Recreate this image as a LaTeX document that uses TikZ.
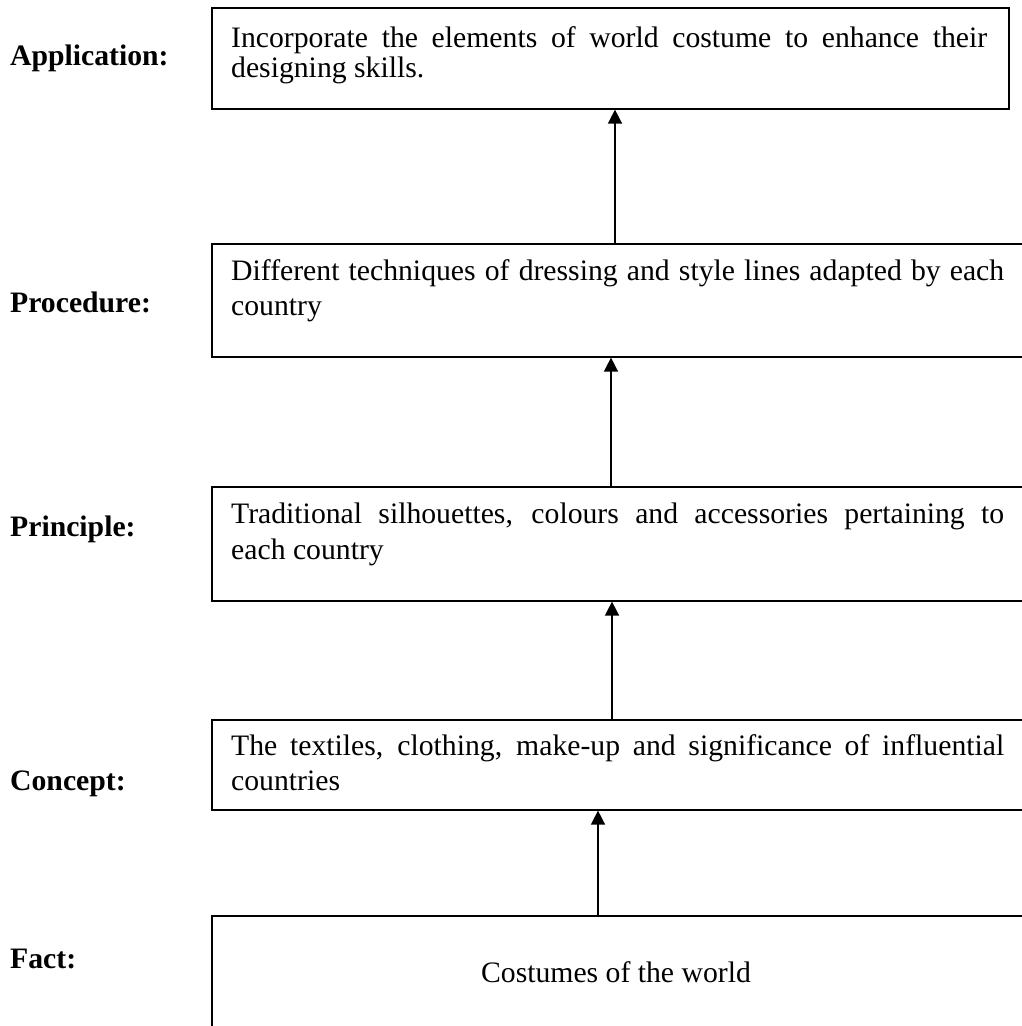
\documentclass[tikz,border=0pt]{standalone}
\usepackage{fontspec}
\setmainfont{Liberation Serif}
\usetikzlibrary{arrows.meta}
\begin{document}
\begin{tikzpicture}[x=1pt,y=-1pt,
  box/.style={draw, line width=1.6pt, inner sep=0pt, anchor=north west},
  line/.style={anchor=base west, inner sep=0pt,
    font=\fontsize{29.7}{35}\selectfont},
  lab/.style={anchor=base west, inner sep=0pt,
    font=\fontsize{29.7}{35}\selectfont\bfseries},
  arr/.style={line width=1.5pt, -{Triangle[width=14pt,length=14pt]}}]
\useasboundingbox (0,0) rectangle (1021,1026);
% levels, from top to bottom
\node[box, minimum width=797pt, minimum height=101pt] (app)  at (211,7)   {};
\node[box, minimum width=840pt, minimum height=113pt] (proc) at (211,243) {};
\node[box, minimum width=840pt, minimum height=114pt] (prin) at (211,486) {};
\node[box, minimum width=840pt, minimum height=90pt]  (conc) at (211,719) {};
\node[box, minimum width=840pt, minimum height=140pt] (fact) at (211,915) {};
% box texts
\node[line] (appA)  at (231,47)  {\makebox[756pt][s]{Incorporate the elements of world costume to enhance their}};
\node[line] (appB)  at (231,77)  {designing skills.};
\node[line] (procA) at (231,280) {\makebox[773pt][s]{Different techniques of dressing and style lines adapted by each}};
\node[line] (procB) at (231,315) {country};
\node[line] (prinA) at (231,523) {\makebox[773pt][s]{Traditional silhouettes, colours and accessories pertaining to}};
\node[line] (prinB) at (231,559) {each country};
\node[line] (concA) at (231,755) {\makebox[773pt][s]{The textiles, clothing, make-up and significance of influential}};
\node[line] (concB) at (231,790) {countries};
\node[line, anchor=base] (factT) at (616,982) {Costumes of the world};
% level names
\node[lab] (lApp)  at (10,65)  {Application:};
\node[lab] (lProc) at (10,312) {Procedure:};
\node[lab] (lPrin) at (10,536) {Principle:};
\node[lab] (lConc) at (10,790) {Concept:};
\node[lab] (lFact) at (10,968) {Fact:};
% upward arrows
\coordinate (a1) at (615,0);
\coordinate (a2) at (611,0);
\coordinate (a3) at (612,0);
\coordinate (a4) at (598,0);
\draw[arr] (a1 |- proc.north) -- (a1 |- app.south);
\draw[arr] (a2 |- prin.north) -- (a2 |- proc.south);
\draw[arr] (a3 |- conc.north) -- (a3 |- prin.south);
\draw[arr] (a4 |- fact.north) -- (a4 |- conc.south);
\end{tikzpicture}
\end{document}
